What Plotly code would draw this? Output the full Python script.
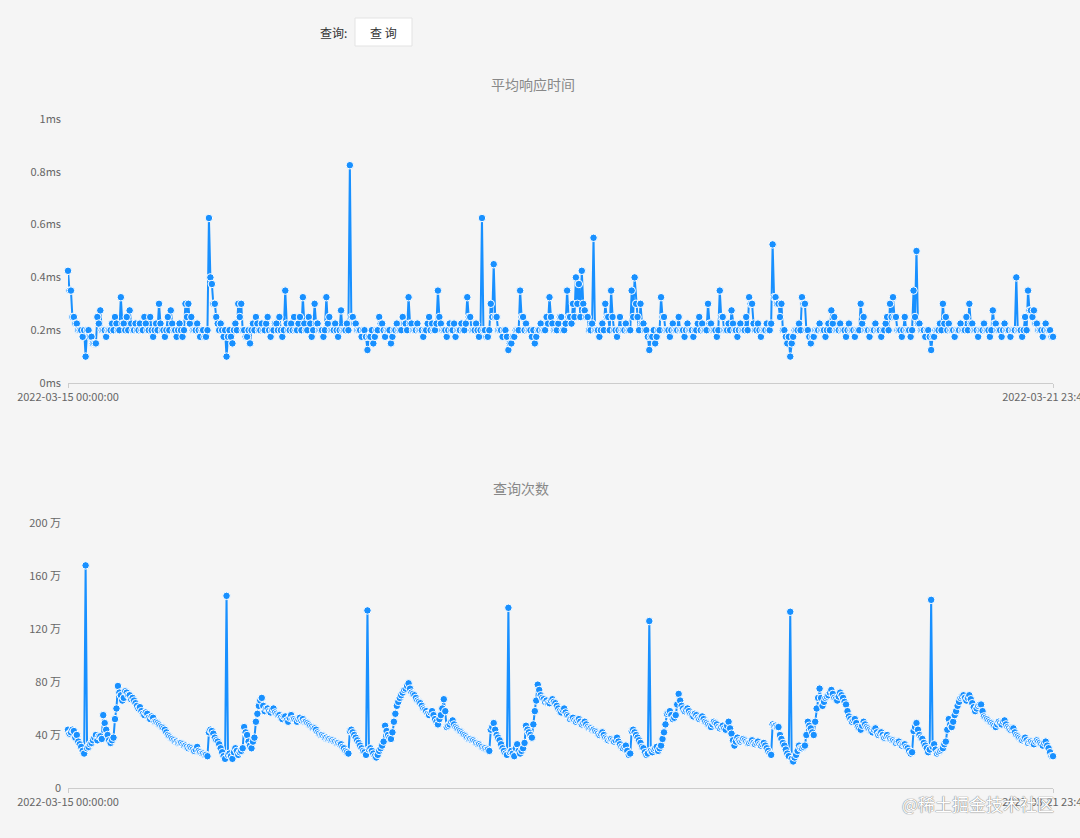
import plotly.graph_objects as go
import pandas as pd

# 平均响应时间 (ms), 15-minute buckets, 2022-03-15 .. 2022-03-21 (96 per day)
avg_resp_ms = [
    # 03-15
    .425, .35, .35, .25, .25, .225, .225, .2, .2, .2, .175, .2, .1, .2, .2, .175, .175, .15, .15, .15, .25, .225, .275, .2,
    .2, .2, .175, .2, .2, .2, .225, .2, .25, .225, .2, .2, .325, .225, .225, .2, .25, .2, .275, .225, .2, .2, .225, .2,
    .2, .225, .2, .2, .25, .225, .2, .2, .25, .2, .175, .2, .225, .2, .3, .225, .2, .2, .175, .2, .25, .2, .275, .225,
    .2, .2, .175, .2, .225, .2, .175, .2, .3, .25, .3, .225, .25, .2, .2, .2, .225, .2, .175, .2, .2, .175, .175, .2,
    # 03-16
    .625, .4, .375, .3, .3, .25, .225, .2, .225, .2, .175, .2, .1, .175, .2, .175, .15, .2, .225, .2, .3, .25, .3, .2,
    .2, .175, .175, .2, .15, .2, .225, .2, .25, .225, .2, .2, .225, .2, .2, .225, .25, .2, .175, .2, .2, .225, .225, .2,
    .25, .2, .175, .2, .35, .225, .2, .2, .225, .2, .25, .2, .2, .225, .25, .2, .325, .225, .2, .2, .25, .225, .175, .2,
    .3, .225, .225, .2, .2, .2, .175, .2, .325, .225, .25, .2, .2, .2, .225, .2, .175, .2, .275, .2, .2, .2, .225, .2,
    # 03-17
    .825, .25, .25, .225, .225, .2, .2, .2, .175, .2, .2, .175, .125, .175, .175, .2, .15, .175, .2, .2, .25, .225, .225, .2,
    .175, .2, .2, .2, .15, .175, .2, .2, .225, .2, .2, .2, .25, .225, .225, .2, .325, .225, .225, .2, .2, .2, .225, .2,
    .2, .2, .175, .2, .2, .225, .25, .2, .225, .2, .2, .225, .35, .25, .225, .2, .2, .2, .175, .2, .225, .2, .2, .225,
    .175, .2, .2, .2, .225, .2, .2, .225, .325, .25, .25, .2, .2, .2, .225, .2, .175, .2, .625, .2, .2, .175, .175, .2,
    # 03-18
    .3, .25, .45, .25, .25, .2, .2, .2, .175, .2, .2, .175, .125, .15, .15, .175, .175, .2, .2, .2, .35, .25, .25, .2,
    .225, .2, .2, .2, .175, .2, .15, .175, .2, .2, .225, .2, .2, .2, .25, .225, .325, .25, .225, .2, .2, .2, .225, .25,
    .25, .2, .2, .225, .35, .25, .25, .225, .3, .25, .4, .3, .375, .25, .425, .3, .275, .25, .25, .2, .2, .225, .55, .2,
    .2, .2, .175, .2, .225, .2, .3, .25, .25, .2, .35, .25, .2, .2, .175, .2, .25, .2, .2, .2, .225, .2, .2, .2,
    # 03-19
    .35, .25, .4, .3, .25, .2, .3, .225, .225, .2, .2, .175, .125, .175, .175, .2, .15, .175, .2, .2, .325, .25, .25, .2,
    .2, .2, .175, .2, .225, .2, .2, .2, .25, .2, .2, .2, .175, .2, .225, .2, .2, .2, .175, .2, .2, .225, .25, .2,
    .225, .2, .2, .2, .3, .225, .225, .2, .2, .2, .175, .2, .35, .25, .25, .2, .2, .2, .225, .2, .275, .225, .2, .2,
    .175, .2, .225, .2, .2, .2, .25, .2, .325, .3, .3, .225, .2, .2, .225, .2, .175, .2, .2, .2, .225, .2, .2, .225,
    # 03-20
    .525, .325, .325, .3, .3, .25, .3, .2, .2, .175, .15, .175, .1, .15, .175, .2, .2, .2, .225, .2, .325, .3, .3, .2,
    .2, .175, .15, .175, .175, .2, .2, .2, .225, .2, .2, .2, .175, .2, .225, .2, .275, .225, .25, .2, .2, .2, .225, .2,
    .2, .2, .175, .2, .225, .2, .2, .2, .175, .2, .2, .2, .3, .225, .25, .2, .2, .2, .175, .2, .2, .2, .225, .2,
    .2, .2, .175, .2, .2, .225, .25, .2, .3, .25, .325, .25, .25, .2, .2, .2, .175, .2, .25, .2, .2, .2, .175, .2,
    # 03-21
    .35, .25, .5, .225, .225, .2, .2, .2, .175, .2, .2, .175, .125, .175, .175, .2, .2, .2, .225, .2, .3, .225, .25, .2,
    .225, .2, .2, .2, .175, .2, .2, .2, .225, .2, .2, .2, .25, .2, .3, .225, .225, .2, .2, .2, .175, .2, .2, .2,
    .225, .2, .2, .2, .175, .2, .275, .225, .225, .2, .2, .2, .175, .2, .225, .2, .2, .2, .175, .2, .2, .2, .4, .2,
    .2, .2, .175, .2, .25, .2, .35, .275, .275, .25, .275, .225, .225, .2, .2, .2, .175, .2, .225, .2, .2, .2, .175, .175,
]

# 查询次数 (万)
query_count_wan = [
    # 03-15
    44, 41, 42, 44, 43, 38, 40, 35, 33, 31, 28, 26, 168, 30, 31, 33, 34, 36, 38, 40, 36, 39, 39, 37,
    55, 49, 44, 40, 36, 34, 36, 38, 52, 60, 77, 72, 70, 66, 68, 73, 72, 70, 70, 67, 68, 66, 64, 62,
    60, 61, 58, 56, 55, 57, 56, 53, 52, 54, 53, 50, 50, 49, 48, 47, 46, 45, 44, 42, 40, 39, 38, 37,
    36, 35, 35, 34, 34, 34, 33, 32, 32, 31, 30, 31, 30, 29, 28, 29, 31, 28, 27, 26, 26, 25, 25, 24,
    # 03-16
    42, 44, 43, 41, 38, 36, 35, 33, 30, 27, 24, 22, 145, 25, 26, 24, 22, 27, 30, 28, 25, 27, 28, 30,
    46, 42, 40, 35, 32, 30, 35, 38, 50, 56, 62, 66, 68, 62, 58, 60, 60, 58, 57, 59, 60, 57, 56, 55,
    55, 53, 52, 54, 54, 51, 50, 53, 55, 52, 52, 51, 50, 52, 53, 51, 52, 50, 50, 49, 48, 47, 46, 45,
    45, 44, 42, 41, 40, 40, 39, 38, 38, 37, 37, 36, 36, 35, 35, 34, 34, 33, 33, 31, 30, 28, 27, 26,
    # 03-17
    43, 44, 42, 40, 38, 36, 34, 32, 30, 28, 27, 25, 134, 29, 30, 28, 26, 24, 23, 25, 28, 30, 32, 35,
    47, 43, 40, 38, 37, 42, 50, 56, 62, 65, 68, 70, 72, 74, 75, 77, 79, 75, 72, 71, 70, 68, 66, 65,
    64, 62, 60, 59, 58, 56, 55, 57, 58, 55, 52, 50, 48, 52, 55, 60, 67, 58, 46, 47, 48, 50, 51, 48,
    46, 45, 44, 43, 42, 41, 40, 39, 38, 37, 37, 36, 36, 35, 34, 33, 33, 32, 31, 30, 30, 29, 29, 28,
    # 03-18
    44, 46, 49, 44, 40, 38, 36, 33, 30, 28, 26, 25, 136, 27, 28, 26, 24, 30, 33, 28, 26, 28, 30, 34,
    47, 44, 42, 40, 38, 48, 58, 66, 78, 74, 70, 68, 67, 65, 66, 64, 64, 66, 67, 65, 64, 62, 60, 58,
    57, 59, 60, 57, 55, 54, 52, 53, 53, 51, 50, 51, 52, 50, 48, 49, 50, 48, 46, 45, 45, 44, 44, 43,
    42, 41, 40, 41, 42, 40, 38, 37, 36, 37, 37, 36, 35, 36, 38, 35, 33, 31, 30, 31, 32, 28, 25, 26,
    # 03-19
    43, 44, 42, 40, 38, 36, 34, 31, 30, 27, 25, 26, 126, 28, 27, 29, 30, 31, 28, 30, 32, 37, 42, 48,
    56, 57, 58, 55, 52, 53, 55, 63, 71, 66, 62, 60, 58, 59, 60, 58, 56, 55, 54, 56, 55, 53, 52, 53,
    54, 52, 50, 49, 48, 47, 46, 48, 50, 49, 48, 46, 45, 46, 47, 45, 44, 47, 50, 45, 41, 36, 32, 35,
    38, 36, 35, 36, 37, 36, 35, 34, 34, 35, 36, 34, 33, 34, 35, 33, 32, 33, 34, 32, 30, 28, 26, 25,
    # 03-20
    48, 47, 47, 46, 46, 40, 37, 34, 32, 29, 26, 24, 133, 22, 20, 23, 25, 28, 32, 30, 30, 31, 32, 40,
    50, 47, 45, 42, 40, 50, 60, 68, 75, 68, 62, 65, 68, 69, 70, 72, 74, 71, 68, 67, 66, 69, 72, 70,
    68, 65, 63, 58, 54, 52, 50, 51, 52, 49, 46, 45, 44, 47, 50, 48, 46, 45, 44, 43, 42, 44, 45, 42,
    40, 41, 42, 40, 38, 39, 40, 38, 37, 36, 36, 35, 34, 35, 35, 33, 32, 33, 33, 31, 30, 28, 26, 27,
    # 03-21
    43, 46, 49, 44, 40, 38, 37, 34, 32, 30, 27, 29, 142, 31, 33, 29, 26, 27, 28, 29, 30, 33, 35, 44,
    52, 48, 46, 50, 55, 58, 62, 65, 68, 69, 70, 68, 66, 68, 70, 67, 64, 61, 58, 60, 62, 63, 63, 58,
    54, 53, 52, 51, 50, 49, 48, 47, 46, 48, 50, 49, 48, 50, 51, 48, 46, 45, 44, 45, 45, 42, 40, 39,
    38, 37, 36, 37, 38, 36, 34, 35, 35, 34, 33, 35, 36, 35, 34, 33, 32, 34, 35, 32, 30, 27, 24, 24,
]

times = pd.date_range("2022-03-15 00:00:00", periods=len(avg_resp_ms),
                      freq="15min").strftime("%Y-%m-%d %H:%M:%S").tolist()

resp_ticks = [0, 0.2, 0.4, 0.6, 0.8, 1]
resp_ticktext = ["0ms", "0.2ms", "0.4ms", "0.6ms", "0.8ms", "1ms"]
count_ticks = [0, 40, 80, 120, 160, 200]
count_ticktext = ["0", "40 万", "80 万", "120 万", "160 万", "200 万"]

BLUE = "#1890ff"
BG = "#f5f5f5"
FONT = "Noto Sans CJK SC, Noto Sans, sans-serif"
W, H = 1080, 838


def px_x(x):
    return x / W


def px_y(y):
    return 1 - y / H


fig = go.Figure()

for y_vals, xa, ya in [(avg_resp_ms, "x", "y"), (query_count_wan, "x2", "y2")]:
    fig.add_trace(go.Scatter(
        x=times,
        y=y_vals,
        xaxis=xa,
        yaxis=ya,
        mode="lines+markers",
        line=dict(color=BLUE, width=2),
        marker=dict(size=7.5, color=BLUE, line=dict(color="white", width=1)),
        cliponaxis=False,
        showlegend=False,
        hovertemplate="%{x}<br>%{y}<extra></extra>",
    ))

x_common = dict(
    type="category",
    range=[0, len(times) - 1],
    domain=[px_x(68), px_x(1053)],
    tickvals=[times[0], times[-1]],
    automargin=False,
    showgrid=False,
    zeroline=False,
    showline=True,
    linecolor="#cccccc",
    linewidth=1,
    ticks="outside",
    ticklen=4,
    tickcolor="#cccccc",
    tickfont=dict(size=11, color="#666666"),
)
y_common = dict(
    automargin=False,
    showgrid=False,
    zeroline=False,
    showline=False,
    ticks="",
    ticklabelstandoff=6,
    tickfont=dict(size=11, color="#666666"),
)

fig.update_layout(
    width=W,
    height=H,
    autosize=False,
    margin=dict(l=0, r=0, t=0, b=0, pad=0),
    paper_bgcolor=BG,
    plot_bgcolor=BG,
    font=dict(family=FONT, color="#666666"),
    xaxis=dict(**x_common, anchor="y"),
    yaxis=dict(**y_common, range=[0, 1], tickvals=resp_ticks, ticktext=resp_ticktext,
               domain=[px_y(383), px_y(119)], anchor="x"),
    xaxis2=dict(**x_common, anchor="y2"),
    yaxis2=dict(**y_common, range=[0, 200], tickvals=count_ticks, ticktext=count_ticktext,
                domain=[px_y(788), px_y(523)], anchor="x2"),
)

# query button
fig.add_shape(type="rect", xref="paper", yref="paper",
              x0=px_x(355), x1=px_x(412), y0=px_y(46), y1=px_y(18),
              fillcolor="white", line=dict(color="#e3e3e3", width=1))

annotations = [
    dict(text="查询:", x=px_x(349), y=px_y(32), xanchor="right", yanchor="middle",
         font=dict(size=12, color="#333333")),
    dict(text="查 询", x=px_x(383.5), y=px_y(32), xanchor="center", yanchor="middle",
         font=dict(size=12, color="#333333")),
    dict(text="平均响应时间", x=px_x(533), y=px_y(84), xanchor="center", yanchor="middle",
         font=dict(size=14, color="#888888")),
    dict(text="查询次数", x=px_x(521), y=px_y(488), xanchor="center", yanchor="middle",
         font=dict(size=14, color="#888888")),
    dict(text="@稀土掘金技术社区", x=px_x(1056), y=px_y(803), xanchor="right", yanchor="middle",
         font=dict(size=17, color="white", shadow="0 0 1px #777, 0 0 1px #777")),
]
for a in annotations:
    fig.add_annotation(xref="paper", yref="paper", showarrow=False, **a)

fig.write_html(
    "out.html",
    config={"displayModeBar": False},
    post_script="document.body.style.margin='0';document.body.style.overflow='hidden';",
)
